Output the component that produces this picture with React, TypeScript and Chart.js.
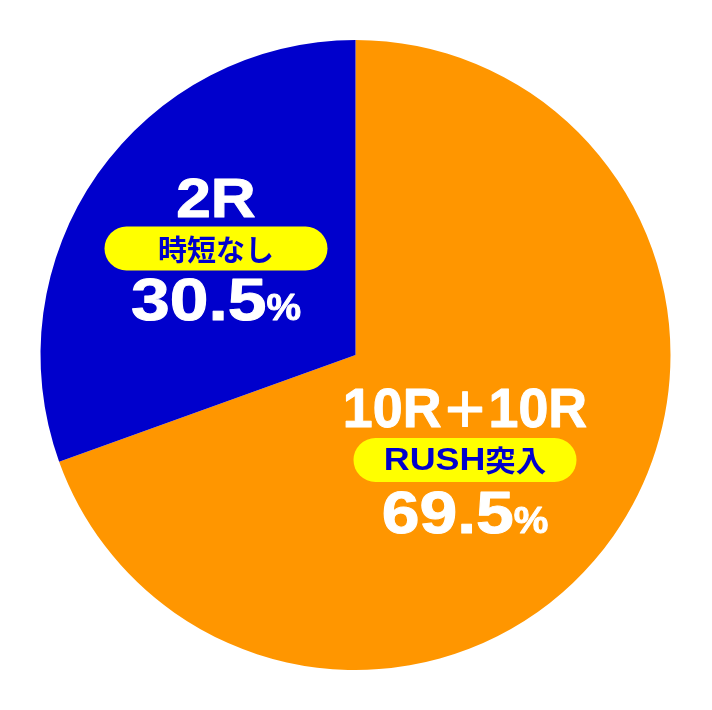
import React, { useEffect, useRef } from "react";
import { Chart, registerables } from "chart.js";

Chart.register(...registerables);

const categories = ["10R+10R RUSH突入", "2R 時短なし"];
const values = [69.5, 30.5];
const colors = ["#FF9600", "#0000CC"];
const titles = ["10R＋10R", "2R"];
const badges = ["RUSH突入", "時短なし"];
const percentLabels = ["69.5", "30.5"];

const LATIN = "'Liberation Sans', Arial, sans-serif";
const CJK = "'Noto Sans CJK JP', sans-serif";

type Seg = { t: string; font: string; sx?: number };

function drawRun(
  ctx: CanvasRenderingContext2D,
  segs: Seg[],
  cx: number,
  y: number,
  color: string,
  baseline: CanvasTextBaseline,
  thicken = 0
) {
  ctx.fillStyle = color;
  ctx.strokeStyle = color;
  ctx.lineJoin = "round";
  ctx.textBaseline = baseline;
  ctx.textAlign = "left";
  let total = 0;
  const widths = segs.map((s) => {
    ctx.font = s.font;
    const w = ctx.measureText(s.t).width * (s.sx ?? 1);
    total += w;
    return w;
  });
  let x = cx - total / 2;
  segs.forEach((s, i) => {
    ctx.save();
    ctx.font = s.font;
    ctx.translate(x, y);
    ctx.scale(s.sx ?? 1, 1);
    ctx.fillText(s.t, 0, 0);
    if (thicken > 0) {
      ctx.lineWidth = thicken;
      ctx.strokeText(s.t, 0, 0);
    }
    ctx.restore();
    x += widths[i];
  });
}

function pill(ctx: CanvasRenderingContext2D, cx: number, cy: number, w: number, h: number) {
  const r = h / 2;
  const x = cx - w / 2;
  const y = cy - h / 2;
  ctx.beginPath();
  ctx.moveTo(x + r, y);
  ctx.lineTo(x + w - r, y);
  ctx.arc(x + w - r, cy, r, -Math.PI / 2, Math.PI / 2);
  ctx.lineTo(x + r, y + h);
  ctx.arc(x + r, cy, r, Math.PI / 2, (3 * Math.PI) / 2);
  ctx.closePath();
  ctx.fillStyle = "#FFFF00";
  ctx.fill();
}

const labelPlugin = {
  id: "sliceLabels",
  afterDraw(chart: any) {
    const ctx: CanvasRenderingContext2D = chart.ctx;
    const arc = chart.getDatasetMeta(0).data[0];
    const cx = arc.x;
    const cy = arc.y;
    const k = arc.outerRadius / 315;
    const anchors = [
      { dx: 109.5, titleY: 72, pillY: 105, pctY: 178, pctSx: 1.15 },
      { dx: -139.5, titleY: -138, pillY: -106.5, pctY: -35, pctSx: 1.18 },
    ];
    ctx.save();
    anchors.forEach((a, i) => {
      const x = cx + a.dx * k;
      const titleSegs: Seg[] =
        i === 0
          ? [
              { t: "10R", font: `bold ${56 * k}px ${LATIN}`, sx: 0.96 },
              { t: "＋", font: `bold ${48 * k}px ${CJK}`, sx: 0.98 },
              { t: "10R", font: `bold ${56 * k}px ${LATIN}`, sx: 0.96 },
            ]
          : [{ t: titles[i], font: `bold ${55 * k}px ${LATIN}`, sx: 1.13 }];
      drawRun(ctx, titleSegs, x, cy + a.titleY * k, "#FFFFFF", "alphabetic", 1);
      pill(ctx, x, cy + a.pillY * k, 223 * k, 44 * k);
      const badgeSegs: Seg[] =
        i === 0
          ? [
              { t: "RUSH", font: `bold ${32 * k}px ${LATIN}`, sx: 1.12 },
              { t: "突入", font: `bold ${29 * k}px ${CJK}`, sx: 1.05 },
            ]
          : [{ t: badges[i], font: `bold ${29 * k}px ${CJK}` }];
      drawRun(ctx, badgeSegs, x, cy + a.pillY * k + 1 * k, colors[1], "middle");
      drawRun(
        ctx,
        [
          { t: percentLabels[i], font: `bold ${59 * k}px ${LATIN}`, sx: a.pctSx },
          { t: "%", font: `bold ${37 * k}px ${LATIN}`, sx: 1.05 },
        ],
        x,
        cy + a.pctY * k,
        "#FFFFFF",
        "alphabetic",
        1
      );
    });
    ctx.restore();
  },
};

export default function App() {
  const ref = useRef<HTMLCanvasElement | null>(null);
  useEffect(() => {
    if (!ref.current) return;
    const chart = new Chart(ref.current, {
      type: "pie",
      data: {
        labels: categories,
        datasets: [
          {
            data: values,
            backgroundColor: colors,
            borderWidth: 0,
          },
        ],
      },
      options: {
        animation: false,
        responsive: false,
        layout: { padding: { left: 40, right: 41, top: 40, bottom: 40 } },
        plugins: { legend: { display: false }, tooltip: { enabled: false } },
      },
      plugins: [labelPlugin],
    });
    return () => chart.destroy();
  }, []);
  return (
    <div style={{ position: "absolute", left: 0, top: 0, width: 712, height: 710, background: "#FFFFFF" }}>
      <canvas ref={ref} width={712} height={710} style={{ width: 712, height: 710, display: "block" }} />
    </div>
  );
}
